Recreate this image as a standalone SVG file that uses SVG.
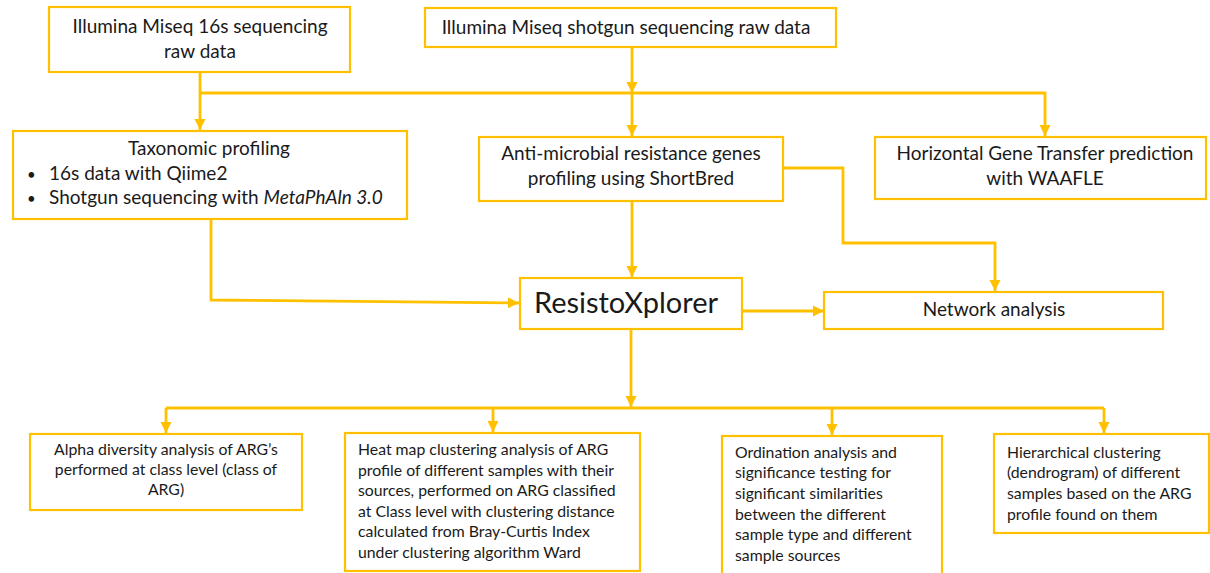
<svg xmlns="http://www.w3.org/2000/svg" width="1210" height="573" viewBox="0 0 1210 573">
<defs>
<style>
.box{fill:#fff;stroke:#FFC000;stroke-width:2.2}
.c{fill:none;stroke:#FFC000;stroke-width:2.8}
text{font-family:Lato,"Liberation Sans",sans-serif;fill:#1a1a1a}
.t18{font-size:19px}
.t15{font-size:15.8px}
.mid{text-anchor:middle}
</style>
<marker id="ah" viewBox="0 0 10 10" refX="10" refY="5" markerWidth="4" markerHeight="4" orient="auto" markerUnits="strokeWidth">
<path d="M0,0 L10,5 L0,10 z" fill="#FFC000"/>
</marker>
</defs>
<rect width="1210" height="573" fill="#fff"/>
<g id="connectors">
<path class="c" d="M200,72 V130" marker-end="url(#ah)"/>
<path class="c" d="M200,93 H1045 V136" marker-end="url(#ah)"/>
<path class="c" d="M632,47 V93" marker-end="url(#ah)"/>
<path class="c" d="M632,93 V136" marker-end="url(#ah)"/>
<path class="c" d="M211,219 V300 L519,303" marker-end="url(#ah)"/>
<path class="c" d="M632,201 V277" marker-end="url(#ah)"/>
<path class="c" d="M783,168 H843 V243 H995 V291" marker-end="url(#ah)"/>
<path class="c" d="M742,311 H824" marker-end="url(#ah)"/>
<path class="c" d="M631,329 V407" marker-end="url(#ah)"/>
<path class="c" d="M166,408 H1104"/>
<path class="c" d="M166,408 V433" marker-end="url(#ah)"/>
<path class="c" d="M493,408 V432" marker-end="url(#ah)"/>
<path class="c" d="M832,408 V435" marker-end="url(#ah)"/>
<path class="c" d="M1104,408 V433" marker-end="url(#ah)"/>
</g>
<g id="n-16s">
<rect class="box" x="49" y="7" width="301" height="65"/>
<text class="t18 mid" x="200" y="33">Illumina Miseq 16s sequencing</text>
<text class="t18 mid" x="200" y="58">raw data</text>
</g>
<g id="n-shotgun">
<rect class="box" x="425" y="8" width="411" height="39"/>
<text class="t18 mid" x="626" y="34">Illumina Miseq shotgun sequencing raw data</text>
</g>
<g id="n-taxonomic">
<rect class="box" x="13" y="131" width="394" height="88"/>
<text class="t18 mid" x="209" y="155">Taxonomic profiling</text>
<text x="27" y="180" font-size="15">•</text>
<text class="t18" x="49" y="180">16s data with Qiime2</text>
<text x="27" y="204" font-size="15">•</text>
<text class="t18" x="49" y="204">Shotgun sequencing with <tspan font-style="italic">MetaPhAln 3.0</tspan></text>
</g>
<g id="n-amr">
<rect class="box" x="479" y="137" width="304" height="64"/>
<text class="t18 mid" x="631" y="160">Anti-microbial resistance genes</text>
<text class="t18 mid" x="631" y="185">profiling using ShortBred</text>
</g>
<g id="n-hgt">
<rect class="box" x="875" y="137" width="331" height="62"/>
<text class="t18 mid" x="1045" y="160">Horizontal Gene Transfer prediction</text>
<text class="t18 mid" x="1045" y="185">with WAAFLE</text>
</g>
<g id="n-resisto">
<rect class="box" x="520" y="278" width="222" height="51"/>
<text class="mid" x="626" y="313" font-size="29">ResistoXplorer</text>
</g>
<g id="n-network">
<rect class="box" x="824" y="292" width="339" height="37"/>
<text class="t18 mid" x="994" y="316">Network analysis</text>
</g>
<g id="n-alpha">
<rect class="box" x="30" y="434" width="272" height="76"/>
<text class="t15 mid" x="166" y="455">Alpha diversity analysis of ARG’s</text>
<text class="t15 mid" x="166" y="475">performed at class level (class of</text>
<text class="t15 mid" x="166" y="495">ARG)</text>
</g>
<g id="n-heatmap">
<rect class="box" x="345" y="433" width="295" height="138"/>
<text class="t15" x="358" y="455">Heat map clustering analysis of ARG</text>
<text class="t15" x="358" y="476">profile of different samples with their</text>
<text class="t15" x="358" y="496">sources, performed on ARG classified</text>
<text class="t15" x="358" y="517">at Class level with clustering distance</text>
<text class="t15" x="358" y="537">calculated from Bray-Curtis Index</text>
<text class="t15" x="358" y="558">under clustering algorithm Ward</text>
</g>
<g id="n-ordination">
<rect class="box" x="722" y="436" width="220" height="150"/>
<text class="t15" x="735" y="458">Ordination analysis and</text>
<text class="t15" x="735" y="478">significance testing for</text>
<text class="t15" x="735" y="499">significant similarities</text>
<text class="t15" x="735" y="520">between the different</text>
<text class="t15" x="735" y="540">sample type and different</text>
<text class="t15" x="735" y="561">sample sources</text>
</g>
<g id="n-hier">
<rect class="box" x="994" y="434" width="215" height="99"/>
<text class="t15" x="1007" y="458">Hierarchical clustering</text>
<text class="t15" x="1007" y="478">(dendrogram) of different</text>
<text class="t15" x="1007" y="499">samples based on the ARG</text>
<text class="t15" x="1007" y="520">profile found on them</text>
</g>
</svg>
